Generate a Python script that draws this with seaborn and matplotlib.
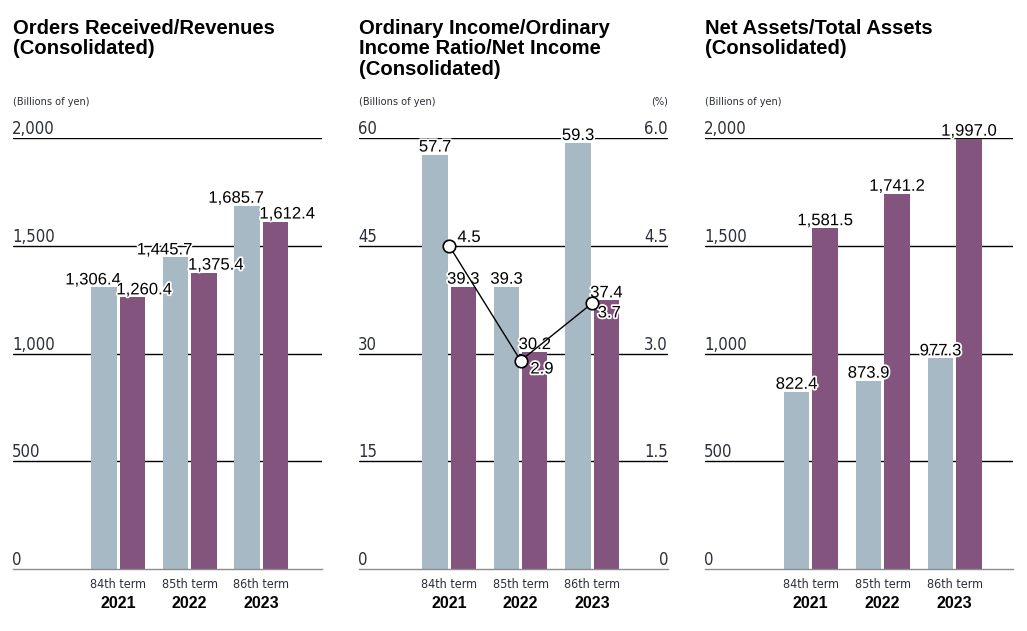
import matplotlib
matplotlib.use("Agg")
import matplotlib.pyplot as plt
import matplotlib.patheffects as pe
import seaborn as sns
import pandas as pd

# ---------------- data ----------------
years = ["2021", "2022", "2023"]
terms = ["84th term", "85th term", "86th term"]

orders_received = [1306.4, 1445.7, 1685.7]
revenues = [1260.4, 1375.4, 1612.4]

ordinary_income = [57.7, 39.3, 59.3]
net_income = [39.3, 30.2, 37.4]
ordinary_income_ratio = [4.5, 2.9, 3.7]

net_assets = [822.4, 873.9, 977.3]
total_assets = [1581.5, 1741.2, 1997.0]

titles = ["Orders Received/Revenues\n(Consolidated)",
          "Ordinary Income/Ordinary\nIncome Ratio/Net Income\n(Consolidated)",
          "Net Assets/Total Assets\n(Consolidated)"]
left_ticks = [[0, 500, 1000, 1500, 2000], [0, 15, 30, 45, 60], [0, 500, 1000, 1500, 2000]]
left_labels = [["0", "500", "1,000", "1,500", "2,000"], ["0", "15", "30", "45", "60"],
               ["0", "500", "1,000", "1,500", "2,000"]]
right_ticks = [0, 1.5, 3.0, 4.5, 6.0]
right_labels = ["0", "1.5", "3.0", "4.5", "6.0"]

GRAY = "#A7B9C4"
PURPLE = "#83547E"
TXT = "#2b2f3a"

sns.set_theme(style="white")
plt.rcParams['font.family'] = ['Liberation Sans', 'DejaVu Sans']
NARROW = dict(family='DejaVu Sans', fontstretch='condensed')
HALO = [pe.withStroke(linewidth=2.5, foreground="white")]

fig = plt.figure(figsize=(10.27, 6.31), dpi=100)
W, H = 1027, 631

panels = [
    (orders_received, revenues, (13, 322), (-1.47, 2.85), (0, 2000), (-8, 8.5)),
    (ordinary_income, net_income, (359, 668), (-1.26, 3.06), (0, 60), (0, 0)),
    (net_assets, total_assets, (705, 1013), (-1.47, 2.81), (0, 2000), (0, 0)),
]
ybot, ytop = 569, 138

for i, (s1, s2, (xl, xr), xlim, ylim, shifts) in enumerate(panels):
    ax = fig.add_axes([xl / W, 1 - ybot / H, (xr - xl) / W, (ybot - ytop) / H])
    df = pd.DataFrame({
        "year": years * 2,
        "series": ["a"] * 3 + ["b"] * 3,
        "value": list(s1) + list(s2),
    })
    sns.barplot(data=df, x="year", y="value", hue="series", palette=[GRAY, PURPLE],
                width=0.79, gap=0.1, ax=ax, legend=False, saturation=1, zorder=2,
                linewidth=0, edgecolor="none")
    for c, dx in zip(ax.containers, shifts):
        anns = ax.bar_label(c, labels=[f"{v:,.1f}" for v in c.datavalues], padding=0,
                            fontsize=12, color="black", zorder=5, path_effects=HALO)
        for a in anns:
            a.xyann = (dx, 0)
    ax.set_xlim(*xlim)
    ax.set_ylim(*ylim)
    ax.set_xlabel("")
    ax.set_ylabel("")
    for t in left_ticks[i][1:]:
        ax.axhline(t, color="black", lw=1.0, zorder=0)
    for s in ["top", "right", "left"]:
        ax.spines[s].set_visible(False)
    ax.spines["bottom"].set_color("#8c8c8c")
    ax.spines["bottom"].set_linewidth(1.0)
    ax.set_yticks(left_ticks[i], left_labels[i])
    ax.tick_params(axis="y", length=0, pad=0.5, labelsize=12, labelcolor=TXT)
    for lab in ax.get_yticklabels():
        lab.set_horizontalalignment("left")
        lab.set_verticalalignment("bottom")
        lab.set_fontfamily(NARROW['family'])
        lab.set_fontstretch('condensed')
    ax.set_xticks([])
    tr = ax.get_xaxis_transform()
    for k, (tm, yr) in enumerate(zip(terms, years)):
        ax.text(k, -0.037, tm, transform=tr, ha="center", va="center", fontsize=9,
                color=TXT, **NARROW)
        ax.text(k, -0.079, yr, transform=tr, ha="center", va="center", fontsize=11.5,
                fontweight="bold", color="black")
    fig.text(xl / W, 1 - 19 / H, titles[i], ha="left", va="top", fontsize=14.6,
             fontweight="bold", color="black", linespacing=1.1)
    fig.text(xl / W, 1 - 102 / H, "(Billions of yen)", ha="left", va="center",
             fontsize=7.8, color=TXT, **NARROW)

    if i == 1:
        ax2 = ax.twinx()
        ax2.set_ylim(0, 6)
        ax2.set_xlim(*xlim)
        for s in ax2.spines.values():
            s.set_visible(False)
        ax2.set_yticks(right_ticks, right_labels)
        ax2.tick_params(axis="y", length=0, pad=0, labelsize=12, labelcolor=TXT)
        for lab in ax2.get_yticklabels():
            lab.set_horizontalalignment("right")
            lab.set_verticalalignment("bottom")
            lab.set_fontfamily(NARROW['family'])
            lab.set_fontstretch('condensed')
        ax2.plot(range(3), ordinary_income_ratio, color="black", lw=1.0,
                 marker="o", markersize=9, markerfacecolor="white",
                 markeredgecolor="black", markeredgewidth=1.2, zorder=4)
        offsets = [(6, 6), (7, -6), (4, -7)]
        for k, v in enumerate(ordinary_income_ratio):
            ax2.annotate(f"{v:.1f}", (k, v), xytext=offsets[k], textcoords="offset points",
                         ha="left", va="center", fontsize=12, color="black",
                         path_effects=HALO)
        fig.text(xr / W, 1 - 102 / H, "(%)", ha="right", va="center",
                 fontsize=7.8, color=TXT, **NARROW)

fig.savefig("out.png", dpi=100)
